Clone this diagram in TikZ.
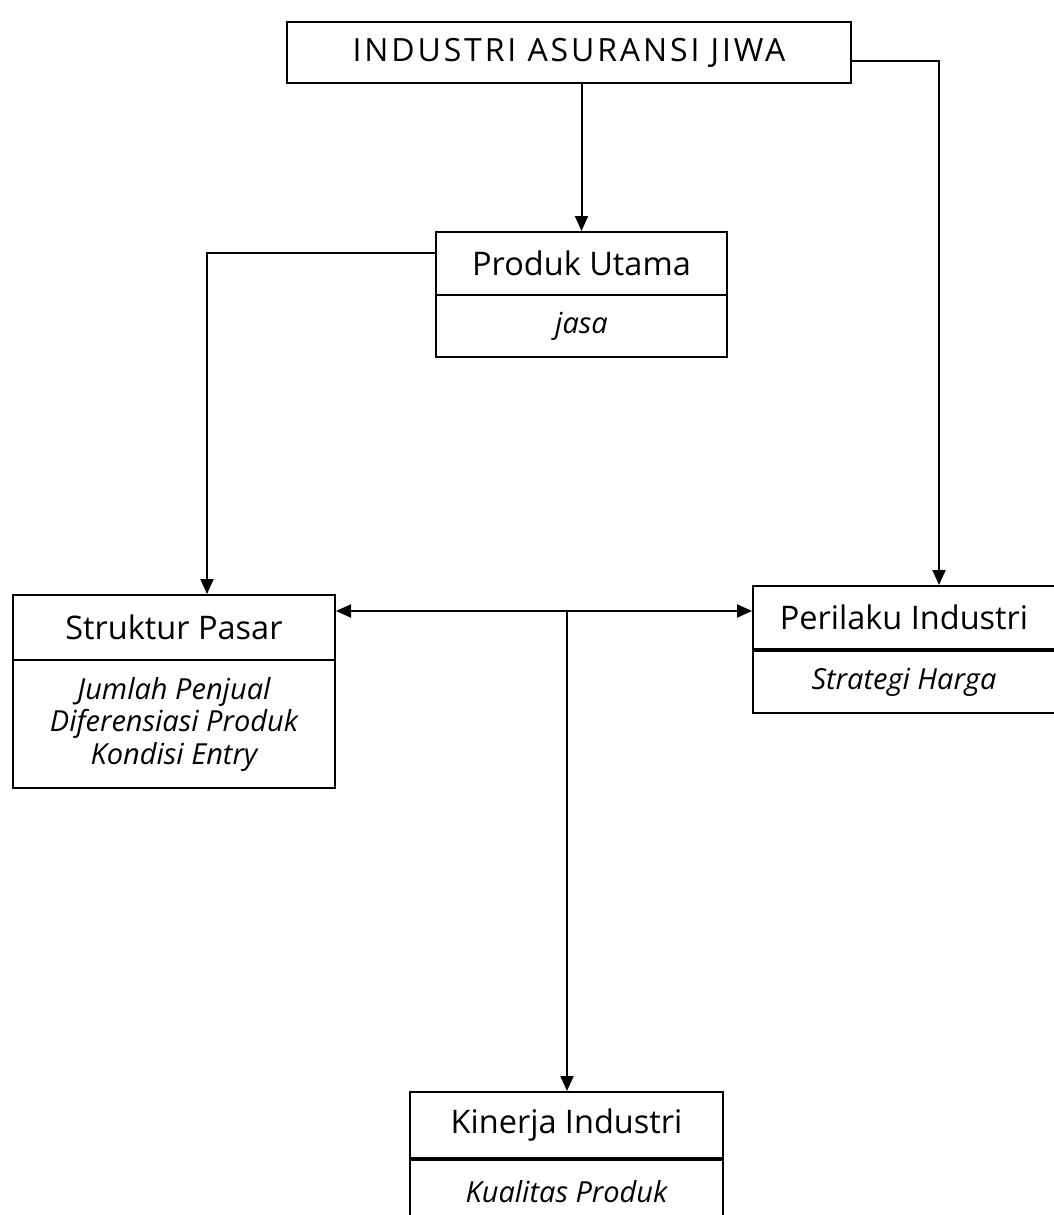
\documentclass[tikz,border=0pt]{standalone}
\usepackage{fontspec}
\setmainfont{Open Sans}
\newfontfamily\spaced[LetterSpace=9]{Open Sans}
\usetikzlibrary{arrows.meta,positioning}
\tikzset{
  box/.style={draw, line width=2pt, rectangle, inner sep=0pt, align=center, font=\fontsize{32.5}{38}\selectfont},
  bodybox/.style={draw, line width=2pt, rectangle, inner sep=0pt, align=center, font=\fontsize{29}{32.5}\selectfont\itshape},
  arr/.style={line width=2pt, -{Triangle[length=15pt,width=13pt]}},
  ln/.style={line width=2pt}
}
\begin{document}
\begin{tikzpicture}[x=1pt,y=-1pt]
\useasboundingbox (0,0) rectangle (1054,1215);
% top
\node[box, minimum width=564pt, minimum height=61pt, font=\fontsize{32}{38}\selectfont\spaced] (top) at (569,52.5) {INDUSTRI ASURANSI JIWA};
% produk utama
\node[box, minimum width=291pt, minimum height=63pt] (produk) at (581.5,263.5) {Produk Utama};
\node[bodybox, minimum width=291pt, minimum height=62pt] (produkb) at (581.5,326) {jasa};
% struktur pasar
\node[box, minimum width=322pt, minimum height=65pt] (struktur) at (174,627.5) {Struktur Pasar};
\node[bodybox, minimum width=322pt, minimum height=128pt] (strukturb) at (174,724) {Jumlah Penjual\\Diferensiasi Produk\\Kondisi Entry};
% perilaku
\node[box, minimum width=318pt, minimum height=63pt, anchor=north west] (perilaku) at (752,585) {\hspace*{-16pt}Perilaku Industri};
\node[bodybox, minimum width=318pt, minimum height=62pt, anchor=north west] (perilakub) at (perilaku.south west) {\hspace*{-16pt}Strategi Harga};
% kinerja
\node[box, minimum width=313pt, minimum height=66pt] (kinerja) at (566.5,1125) {Kinerja Industri};
\node[bodybox, minimum width=313pt, minimum height=72pt, anchor=north] (kinerjab) at (kinerja.south) {\raisebox{10pt}{Kualitas Produk}};
% connectors
\draw[arr] (top.south -| produk.north) -- (produk.north);
\coordinate (topr) at ([yshift=-9pt]top.east);
\draw[arr] (topr) -| ([xshift=27pt]perilaku.north);
\coordinate (prodl) at ([yshift=11pt]produk.west);
\draw[arr] (prodl) -| ([xshift=33pt]struktur.north);
\coordinate (hub) at (567,611);
\draw[arr] (hub) -- (hub -| struktur.east);
\draw[arr] (hub) -- (hub -| perilaku.west);
\draw[arr] (hub) -- (hub |- kinerja.north);
\end{tikzpicture}
\end{document}
